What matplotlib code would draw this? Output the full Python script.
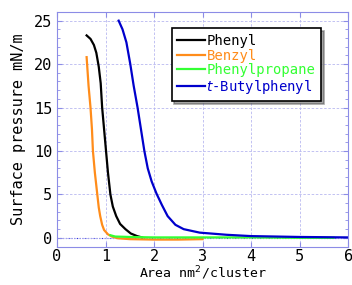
import matplotlib.pyplot as plt
from matplotlib.ticker import MultipleLocator

# values
phenyl_x = [0.61, 0.69, 0.76, 0.81, 0.86, 0.90, 0.93, 0.97, 1.01, 1.05, 1.10,
            1.15, 1.22, 1.30, 1.41, 1.52, 1.65, 1.75]
phenyl_y = [23.3, 22.9, 22.2, 21.3, 19.7, 17.8, 15.0, 12.5, 10.0, 7.5, 5.0,
            3.6, 2.5, 1.6, 1.0, 0.5, 0.2, 0.05]

benzyl_x = [0.61, 0.65, 0.69, 0.72, 0.74, 0.78, 0.83, 0.86, 0.89, 0.93, 0.97,
            1.05, 1.13, 1.25, 1.5, 2.0, 2.5, 3.0]
benzyl_y = [20.8, 17.5, 15.0, 12.5, 10.0, 7.5, 5.0, 3.5, 2.5, 1.5, 0.9,
            0.4, 0.15, -0.05, -0.15, -0.2, -0.2, -0.15]

propane_x = [1.10, 1.2, 1.5, 2.0, 3.0, 4.0, 5.0, 5.7]
propane_y = [0.3, 0.15, 0.1, 0.05, 0.05, 0.05, 0.0, 0.0]

butyl_x = [1.27, 1.35, 1.43, 1.51, 1.58, 1.66, 1.73, 1.80, 1.87, 1.95, 2.05,
           2.16, 2.28, 2.44, 2.61, 2.94, 3.5, 4.0, 5.0, 6.0]
butyl_y = [25.0, 24.0, 22.5, 20.0, 17.5, 15.0, 12.5, 10.0, 8.0, 6.5, 5.1,
           3.8, 2.5, 1.5, 1.0, 0.6, 0.35, 0.2, 0.1, 0.05]

names = ['Phenyl', 'Benzyl', 'Phenylpropane', '$t$-Butylphenyl']
colors = ['black', '#ff8c1a', '#33ff33', '#0000cc']

plt.rcParams['font.family'] = 'DejaVu Sans Mono'
plt.rcParams['mathtext.fontset'] = 'dejavusans'

fig = plt.figure(figsize=(3.52, 2.85), dpi=100)
ax = fig.add_axes([0.162, 0.135, 0.827, 0.823])

series = [(phenyl_x, phenyl_y), (benzyl_x, benzyl_y),
          (propane_x, propane_y), (butyl_x, butyl_y)]
for (xs, ys), name, c in zip(series, names, colors):
    ax.plot(xs, ys, color=c, lw=1.6, label=name)

ax.axhline(0, color='#3333dd', lw=0.8, ls=(0, (1, 1.5)), zorder=0)

ax.set_xlim(0, 6)
ax.set_ylim(-1, 26)
ax.yaxis.set_major_locator(MultipleLocator(5))
ax.yaxis.set_minor_locator(MultipleLocator(1))
ax.xaxis.set_major_locator(MultipleLocator(1))
ax.grid(True, color='#b8b8f0', ls=(0, (3, 2)), lw=0.6)
for s in ax.spines.values():
    s.set_color('#8c8ce6')
ax.tick_params(which='both', direction='in', color='#8c8ce6',
               top=True, right=True, labelsize=11)
ax.tick_params(which='minor', length=2)
ax.tick_params(axis='x', pad=2)

ax.set_xlabel('Area nm$^2$/cluster', fontsize=9.5, labelpad=0)
ax.set_ylabel('Surface pressure mN/m', fontsize=11, labelpad=6)

leg = ax.legend(loc='upper right', bbox_to_anchor=(0.93, 0.96), fontsize=10,
                frameon=True, fancybox=False, shadow=True, handlelength=2.0,
                handletextpad=0.1, labelspacing=0.05, borderpad=0.4)
leg.get_frame().set_edgecolor('black')
leg.get_frame().set_linewidth(1.2)
for t, c in zip(leg.get_texts(), colors):
    t.set_color(c)

fig.savefig('out.png', dpi=100)
